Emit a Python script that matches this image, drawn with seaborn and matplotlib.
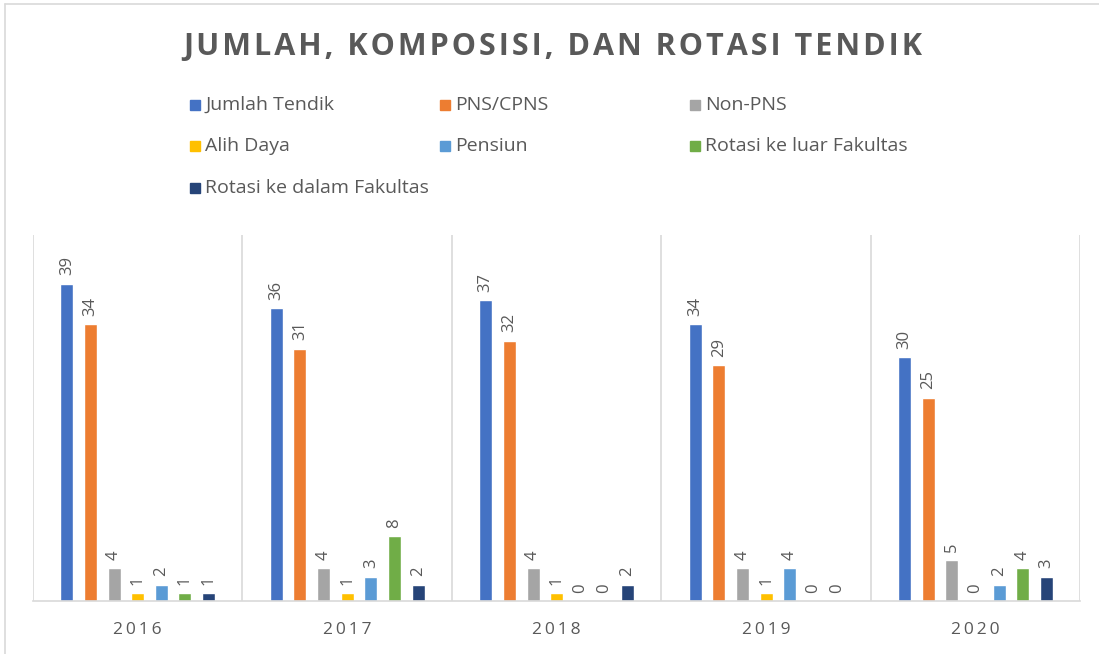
import matplotlib
matplotlib.use("Agg")
import matplotlib.pyplot as plt
import matplotlib.lines as mlines
import pandas as pd
import seaborn as sns

# Data
YEARS = ["2016", "2017", "2018", "2019", "2020"]
SERIES = ["Jumlah Tendik", "PNS/CPNS", "Non-PNS", "Alih Daya", "Pensiun",
          "Rotasi ke luar Fakultas", "Rotasi ke dalam Fakultas"]
JUMLAH_TENDIK = [39, 36, 37, 34, 30]
PNS_CPNS = [34, 31, 32, 29, 25]
NON_PNS = [4, 4, 4, 4, 5]
ALIH_DAYA = [1, 1, 1, 1, 0]
PENSIUN = [2, 3, 0, 4, 2]
ROTASI_LUAR = [1, 8, 0, 0, 4]
ROTASI_DALAM = [1, 2, 2, 0, 3]

COLORS = ["#4472C4", "#ED7D31", "#A5A5A5", "#FFC000", "#5B9BD5", "#70AD47", "#264478"]
TEXT_GRAY = "#595959"
LINE_GRAY = "#D9D9D9"

values = [JUMLAH_TENDIK, PNS_CPNS, NON_PNS, ALIH_DAYA, PENSIUN, ROTASI_LUAR, ROTASI_DALAM]
rows = []
for name, vals in zip(SERIES, values):
    for year, v in zip(YEARS, vals):
        rows.append({"year": year, "series": name, "value": v})
df = pd.DataFrame(rows)

sns.set_style("white")
plt.rcParams["font.family"] = ["Open Sans", "DejaVu Sans"]

fig = plt.figure(figsize=(10.99, 6.54), dpi=100)
ax = fig.add_axes([0.030, 0.081, 0.953, 0.560])

sns.barplot(data=df, x="year", y="value", hue="series", hue_order=SERIES,
            order=YEARS, palette=COLORS, width=0.79, gap=0.45, ax=ax,
            legend=False, saturation=1, errorbar=None)

for cont in ax.containers:
    ax.bar_label(cont, rotation=90, padding=6, color=TEXT_GRAY, fontsize=12)

ax.set_ylim(0, 45)
ax.set_xlim(-0.5, len(YEARS) - 0.5)
ax.set_xlabel("")
ax.set_ylabel("")
ax.set_yticks([])
ax.set_xticks(range(len(YEARS)))
ax.set_xticklabels(["\u2009".join(y) for y in YEARS], color=TEXT_GRAY, fontsize=12.5)
ax.tick_params(axis="x", length=0, pad=15)

for side in ["top", "right", "left"]:
    ax.spines[side].set_visible(False)
ax.spines["bottom"].set_color(LINE_GRAY)
ax.spines["bottom"].set_linewidth(1.2)

# vertical separators between year groups
for xpos in [i - 0.5 for i in range(len(YEARS) + 1)]:
    ax.axvline(xpos, color=LINE_GRAY, lw=1.2, zorder=0)

# title, letter-spaced
title = "JUMLAH, KOMPOSISI, DAN ROTASI TENDIK"
fig.text(0.503, 0.928, "\u200a".join(title), ha="center", va="center",
         fontsize=22, fontweight="bold", color=TEXT_GRAY, family=["Open Sans", "DejaVu Sans"])

# legend in three columns, drawn row by row
col_x = [190, 440, 690]
row_y = [105, 146, 188]
for i, (name, c) in enumerate(zip(SERIES, COLORS)):
    cx = col_x[i % 3]
    cy = row_y[i // 3]
    fx = cx / 1099
    fy = 1 - cy / 654
    fig.patches.append(plt.Rectangle((fx, fy - 5 / 654), 10 / 1099, 10 / 654,
                                     transform=fig.transFigure, color=c))
    fig.text(fx + 15 / 1099, fy, name, ha="left", va="center", fontsize=14, color=TEXT_GRAY)

# outer chart border
fig.add_artist(mlines.Line2D([5 / 1099, 5 / 1099], [0, 1 - 4 / 654], color=LINE_GRAY,
                             lw=1.2, transform=fig.transFigure))
fig.add_artist(mlines.Line2D([5 / 1099, 1], [1 - 4 / 654, 1 - 4 / 654], color=LINE_GRAY,
                             lw=1.2, transform=fig.transFigure))

fig.savefig("out.png", dpi=100)
